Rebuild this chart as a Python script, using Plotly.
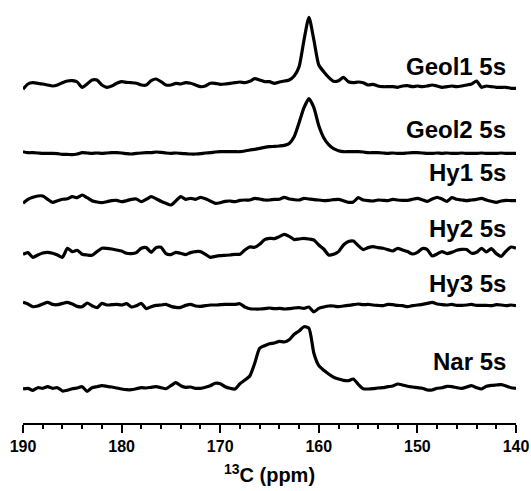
import numpy as np
import plotly.graph_objects as go

# chemical shift grid (ppm), 190 -> 140 in 0.5 ppm steps
ppm = [190 - 0.5 * i for i in range(101)]

geol1 = [-4.3, 1, 2.3, 1.7, 1, 0, -1, 0, 2.3, 4, 4.3, 3, -2.3, 1, 5, 5, 0, -2.3, -1, 1.7,
         3.3, 2.7, 2.3, 1.7, 0, 0, 4.3, 6, 3.3, 0, 0, 1.7, 1, 2.3, 1.7, 0, -1.7, -1, 1.7, 1.7,
         0.7, 1, 1.7, 2.3, 3, 2.3, 3.7, 6.3, 5, 3.3, 3.3, 1.7, 3, 4, 5, 9, 18.3, 45, 67.7, 45,
         20, 13.3, 7.7, 3.7, 4.3, 7.7, 3.3, 2.3, 3, 2.3, 0, 0.7, -1, -1.7, -1.7, -1.7, -2.3, -1, -0.7, -1.7,
         -1, -1.7, -1, 0, -1, -2.3, -1.7, -1, -1.7, -1, 0, 1, 4, -2.3, -1, -1.7, -2.3, -2.3, -2.3, -3.3,
         -3.3]

geol2 = [1, 0, 0, -0.3, -0.7, -0.7, -0.7, -1, -1.7, -1.7, -2, -1.3, 0, -0.3, -0.7, -0.3, -0.7, -0.3, 0, 0,
         -0.3, -1, -1.3, -0.7, -0.3, 0, 0, 0.7, 0.3, -0.3, -0.7, -0.3, -0.7, -1, -1.3, -1.3, -1, -0.3, 0, 0.7,
         1, 1, 1, 1, 1, 1.7, 2.7, 3.3, 4.3, 5.3, 6, 6.3, 6.7, 7.3, 9.3, 16, 30, 45, 54, 45,
         27, 15, 8, 4, 2, 1, 1, 1, 1, 0.7, 0, 0, 0, -0.3, -0.7, -0.3, -0.7, -0.7, -0.3, 0,
         0, -0.3, -0.7, -0.7, -0.3, -0.7, -0.3, -0.7, -0.7, -0.3, -0.7, -0.7, -0.7, -0.3, -0.7, -0.7, -0.7, -0.3, -0.7, -0.7,
         -0.7]

hy1 = [-3.3, 0.7, 2.7, 4, 4, 0.7, -2.3, -0.7, 0.7, 1.3, 3.3, 2.3, 5, 2.3, -0.7, -2, -2.7, -1.7, -0.7, -0.3,
       -1.7, -0.7, 0.7, 1, -1.7, 0.7, 3.3, 1.3, -1.3, -3.3, -5, -1, 3.3, 0.7, 1.7, 0.7, 2.7, 1.3, -1, -3.3,
       -2.7, -1.3, -1, -1.7, -0.3, 0, 0, 1.7, 1, 0, 0, 0.7, 0.7, 2.7, 1, 0.3, 0, 1.7, 1, 0.3,
       0, -0.7, -0.3, 0.3, 0.7, -0.7, -2.3, -2, 2.3, 0, -0.7, -1, 0, -0.3, -0.7, 0.7, 0, -0.3, -0.3, 0.7,
       1.7, 0.3, -1.3, 1, 2.7, 1, -1.3, 2.3, 0.7, 0, -0.7, 0, 0.7, 1.7, 0, -1.3, -2.3, -1, -0.3, -0.7,
       -0.7]

hy2 = [0, 1.7, -3, -0.7, 1.3, 2, 1, -0.7, -3, 6, 2.7, 4, 0, -0.7, -1, 2.7, 6, 6, 5.3, 4.3,
       3.3, 1, 0.7, 1.7, 6, 6.7, 2, 6.7, 7, 0.7, -0.3, 2, 1, -0.3, 1.7, 2.7, 2.7, 0, -3, -2,
       -1.3, -1, -0.7, 0, 0, 4.3, 7.3, 7, 10, 14.7, 16, 15.7, 17.7, 20, 18, 14.7, 15.3, 16, 15.3, 14.3,
       9.3, 5.3, -0.7, 0, 2.7, 9.3, 12.7, 13.3, 8.7, 4.7, 6.7, 7.7, 6.7, 6, 4.7, 3.3, 6, 4.3, 2.7, 0.3,
       2, 5.7, 4.7, -1.7, 0.3, 2.7, 0.7, 2, 4, 5, 4.7, 1, 2, 6, 2.3, 5.7, 0.7, -2, 3.3, 7.3,
       6]

hy3 = [3.3, 1.7, -1, -0.3, 1.7, 3.3, 1.3, 1, 2.3, 3.3, 1.7, -0.7, -1, 2.7, 0, -2, 2.3, 0.7, 1, 1.3,
       0.7, 2, -1.3, 0, 2.3, -3, -1, 0.3, 0.7, 1.3, -0.7, -1.7, -1.7, 0.3, 1.3, -0.3, -0.7, 0, 0.7, 0.7,
       1, 1.3, 1.3, 1.3, 2, -1.3, -3, -3.3, -3.3, -3, -2.3, -3, -2.7, -3.3, -3, -2.3, -2, -2.7, -1.3, -6.3,
       -2.7, -1.3, -0.3, -0.3, -1, -0.3, 0.3, 1, 1.7, 1, 1.3, 0.7, 0.3, 0, 1.3, 1, 0.3, 0, -1, 0,
       0.7, 1.3, 2.3, 3.3, 1.7, 1, 0.7, 1.3, 0.3, 0.3, 0.7, 1.3, 0.3, 0.3, 0.3, 0, 1, 0.7, 0, 0.7,
       0]

nar = [0, 0.7, -1.3, 1.3, 0.7, 2.3, 0.7, 1.3, -2, -1.3, 0.3, 1, 2.3, -2.3, 1.3, 2.3, 3.3, 2.7, 2, 1,
       0, -0.7, -0.7, 0.3, 1.3, 1, 1.7, 2.3, 1.3, 0.3, 3.3, 6.3, 3.3, 1.7, 2, 0.7, 0.7, 1.7, 3.3, 5.7,
       5.3, 2.3, 0.7, 0, 5.3, 9, 13, 25.7, 40.7, 43.3, 45.3, 46, 47.7, 47, 49.3, 54.7, 58, 62.3, 60.7, 35.7,
       23.3, 18.7, 15, 11.7, 10, 8.7, 8.3, 10, 4.7, 0.3, 0, 0.3, 1, 1.3, 2.3, 3, 5, 4, 2.7, 2,
       1.3, 0.7, -1, -1, 0.7, 1.3, 2.7, 2.3, 1.3, 0.7, 2, 3.3, 1.3, 0, 2.7, 3.7, 4, 4.3, 3, 1.3,
       0.7]

names = ["Geol1 5s", "Geol2 5s", "Hy1 5s", "Hy2 5s", "Hy3 5s", "Nar 5s"]
spectra = [geol1, geol2, hy1, hy2, hy3, nar]

# vertical stacking offsets and label positions (layout)
offsets = [338, 270.3, 223, 168.7, 117.3, 34]
label_y = [357, 294, 251, 194.5, 140, 62]

fig = go.Figure()
for name, y, off in zip(names, spectra, offsets):
    fig.add_trace(go.Scatter(
        x=ppm, y=np.array(y) + off, mode="lines", name=name,
        line=dict(color="black", width=3.2, shape="spline", smoothing=0.6),
        showlegend=False, hoverinfo="skip"))

for name, ly in zip(names, label_y):
    fig.add_annotation(x=0.984, xref="paper", y=ly, yref="y", text=name,
                       showarrow=False, xanchor="right", yanchor="middle",
                       font=dict(family="Liberation Sans, Arial", size=24, color="black", weight="bold"))

fig.update_layout(
    width=531, height=491,
    margin=dict(l=23, r=15, t=0, b=68),
    paper_bgcolor="white", plot_bgcolor="white",
    xaxis=dict(range=[190, 140], showline=True, linecolor="black", linewidth=2,
               ticks="outside", ticklen=8, tickwidth=1.5, tickcolor="black",
               tickvals=[190, 180, 170, 160, 150, 140], showgrid=False, zeroline=False,
               tickfont=dict(family="Liberation Sans, Arial", size=16, color="black", weight="bold"),
               minor=dict(ticks="outside", ticklen=4, tickwidth=1.5, tickcolor="black", dtick=2, showgrid=False),
               title=dict(text="<sup>13</sup>C (ppm)", standoff=14,
                          font=dict(family="Liberation Sans, Arial", size=20, color="black", weight="bold"))),
    yaxis=dict(range=[0, 423], visible=False, showgrid=False, zeroline=False),
)

fig.write_html("out.html")
